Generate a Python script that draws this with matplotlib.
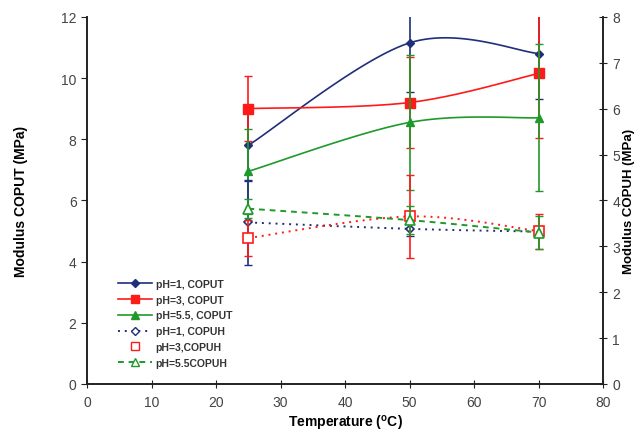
import numpy as np
import matplotlib
matplotlib.use("Agg")
from matplotlib import pyplot as plt
from matplotlib.lines import Line2D

plt.rcParams['font.family'] = ['Liberation Sans', 'DejaVu Sans']

temp = [25, 50, 70]

# COPUT, left axis (MPa)
coput_ph1 = [7.8, 11.15, 10.8]
coput_ph1_err = [1.15, 1.6, 1.5]
coput_ph3 = [9.0, 9.2, 10.15]
coput_ph3_err = [1.05, 1.5, 2.1]
coput_ph55 = [6.95, 8.55, 8.7]
coput_ph55_err = [1.4, 2.2, 2.4]

# COPUH, right axis (MPa)
copuh_ph1 = [3.52, 3.38, 3.32]
copuh_ph1_err = [0.93, 0.15, 0.1]
copuh_ph3 = [3.18, 3.65, 3.33]
copuh_ph3_err = [0.39, 0.9, 0.38]
copuh_ph55 = [3.82, 3.57, 3.3]
copuh_ph55_err = [0.2, 0.3, 0.35]

labels = ["pH=1, COPUT", "pH=3, COPUT", "pH=5.5, COPUT",
          "pH=1, COPUH", "pH=3,COPUH", "pH=5.5COPUH"]

navy = '#1f2f7a'
red = '#ff1a1a'
green = '#1f9a2a'


def smooth(x, y, n=40):
    # excel-like smoothed line (catmull-rom bezier)
    x = np.asarray(x, float)
    y = np.asarray(y, float)
    px = np.concatenate([[x[0]], x, [x[-1]]])
    py = np.concatenate([[y[0]], y, [y[-1]]])
    xs, ys = [], []
    t = np.linspace(0, 1, n)
    for i in range(1, len(px) - 2):
        p0 = np.array([px[i], py[i]])
        p3 = np.array([px[i + 1], py[i + 1]])
        p1 = p0 + (np.array([px[i + 1], py[i + 1]]) - np.array([px[i - 1], py[i - 1]])) / 6
        p2 = p3 - (np.array([px[i + 2], py[i + 2]]) - np.array([px[i], py[i]])) / 6
        b = ((1 - t) ** 3)[:, None] * p0 + (3 * (1 - t) ** 2 * t)[:, None] * p1 \
            + (3 * (1 - t) * t ** 2)[:, None] * p2 + (t ** 3)[:, None] * p3
        xs.extend(b[:, 0])
        ys.extend(b[:, 1])
    return xs, ys


fig = plt.figure(figsize=(6.35, 4.35), dpi=100)
ax = fig.add_axes([0.137, 0.115, 0.813, 0.844])
ax2 = ax.twinx()

# left axis series
for y, e, c, m, ms in [(coput_ph1, coput_ph1_err, navy, 'D', 4.5),
                       (coput_ph3, coput_ph3_err, red, 's', 6.5),
                       (coput_ph55, coput_ph55_err, green, '^', 6)]:
    sx, sy = smooth(temp, y)
    ax.plot(sx, sy, color=c, lw=1.2)
    ax.errorbar(temp, y, yerr=e, fmt='none', ecolor=c, elinewidth=1.2, capsize=3)
    ax.plot(temp, y, ls='none', marker=m, ms=ms, color=c)

# right axis series
for y, e, c, m, ms, ls in [(copuh_ph1, copuh_ph1_err, navy, 'D', 4.5, (0, (1, 2.5))),
                           (copuh_ph3, copuh_ph3_err, red, 's', 7.5, (0, (1, 2.5))),
                           (copuh_ph55, copuh_ph55_err, green, '^', 6.5, (0, (3, 2.5)))]:
    sx, sy = smooth(temp, y)
    ax2.plot(sx, sy, color=c, lw=1.4, ls=ls)
    ax2.errorbar(temp, y, yerr=e, fmt='none', ecolor=c, elinewidth=1.2, capsize=3)
    ax2.plot(temp, y, ls='none', marker=m, ms=ms, mfc='white', mec=c, mew=1.2)

ax.set_xlim(0, 80)
ax.set_ylim(0, 12)
ax2.set_ylim(0, 8)
ax.set_xticks(np.arange(0, 81, 10))
ax.set_yticks(np.arange(0, 13, 2))
ax2.set_yticks(np.arange(0, 9, 1))

for a in (ax, ax2):
    a.spines['top'].set_visible(False)
    for s in a.spines.values():
        s.set_linewidth(1.2)
        s.set_color('#222222')
ax.tick_params(axis='x', direction='inout', length=6, labelsize=10, colors='#222222', labelcolor='#444444', pad=5)
ax.tick_params(axis='y', direction='out', length=4, labelsize=10, colors='#222222', labelcolor='#444444')
ax2.tick_params(axis='y', direction='inout', length=6, labelsize=10, colors='#222222', labelcolor='#444444')

ax.set_xlabel("Temperature ($^{\\mathregular{o}}$C)", fontsize=10, fontweight='bold', labelpad=3)
ax.set_ylabel("Modulus COPUT (MPa)", fontsize=10, fontweight='bold', labelpad=24)
ax2.set_ylabel("Modulus COPUH (MPa)", fontsize=9.5, fontweight='bold', labelpad=2)

handles = [
    Line2D([], [], color=navy, marker='D', ms=4, lw=1.2),
    Line2D([], [], color=red, marker='s', ms=6, lw=1.2),
    Line2D([], [], color=green, marker='^', ms=6, lw=1.2),
    Line2D([], [], color=navy, marker='D', ms=4.5, mfc='white', lw=1.4, ls=(0, (1, 2.5))),
    Line2D([], [], color=red, marker='s', ms=6, mfc='white', ls='none'),
    Line2D([], [], color=green, marker='^', ms=6, mfc='white', lw=1.4, ls=(0, (3, 2.5))),
]
leg = ax2.legend(handles, labels, loc='upper left', bbox_to_anchor=(0.05, 0.3),
                 frameon=False, fontsize=7.5, handlelength=3.3, labelspacing=0.55,
                 handletextpad=0.3, borderpad=0)
for t in leg.get_texts():
    t.set_fontweight('bold')
    t.set_color('#333333')

fig.savefig("out.png", dpi=100)
